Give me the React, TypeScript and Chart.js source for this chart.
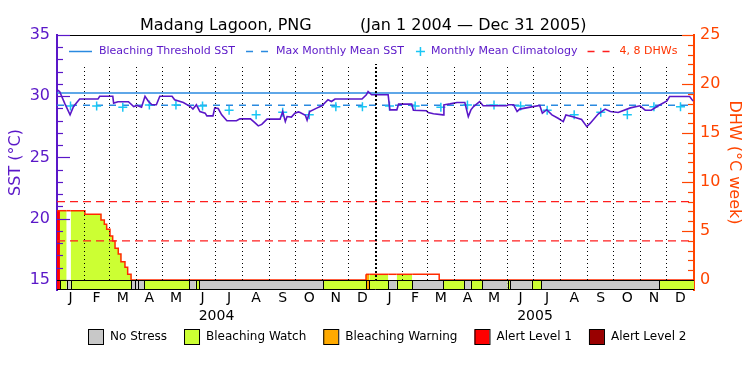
import React, { useEffect, useRef } from 'react';
import { Chart, registerables } from 'chart.js';

Chart.register(...registerables);

const FONT = '"DejaVu Sans", "Liberation Sans", sans-serif';
const PURPLE = '#5a17c8';
const ORANGE = '#ff4500';
const BLUE = '#2a8ae0';
const CYAN = '#19c6f5';
const DHW_RED = '#ff1e1e';
const OUTLINE = '#ff2a00';

const titleMain = 'Madang Lagoon, PNG';
const titlePeriod = '(Jan 1 2004 \u2014 Dec 31 2005)';
const years = [2004, 2005];
const monthLetters = ['J', 'F', 'M', 'A', 'M', 'J', 'J', 'A', 'S', 'O', 'N', 'D'];
const sstTicks = [15, 20, 25, 30, 35];
const dhwTicks = [0, 5, 10, 15, 20, 25];

// Daily SST (days counted from Jan 1 2004)
const sstDays = [0, 3, 9, 15, 19, 26, 47, 49, 64, 65, 70, 82, 88, 92, 97, 101, 105, 109, 114, 118, 132, 135, 145, 153, 156, 160, 164, 170, 172, 179, 181, 185, 189, 195, 206, 210, 222, 227, 231, 235, 241, 256, 259, 262, 264, 269, 273, 277, 279, 285, 287, 290, 298, 304, 311, 315, 319, 350, 355, 357, 361, 380, 382, 390, 392, 407, 409, 424, 426, 432, 443, 444, 451, 459, 468, 472, 475, 478, 485, 489, 516, 518, 524, 528, 531, 543, 554, 557, 562, 568, 575, 581, 584, 593, 602, 608, 612, 621, 629, 635, 644, 658, 669, 675, 682, 690, 700, 703, 726, 730];
const sstValues = [30.53, 30.39, 29.4, 28.48, 29.16, 29.77, 29.77, 30.0, 30.0, 29.44, 29.55, 29.55, 29.16, 29.25, 29.11, 30.0, 29.57, 29.3, 29.3, 30.0, 30.0, 29.71, 29.49, 29.16, 28.95, 29.3, 28.75, 28.62, 28.4, 28.4, 29.05, 29.0, 28.48, 28.0, 28.0, 28.15, 28.15, 27.85, 27.58, 27.7, 28.13, 28.13, 28.75, 27.93, 28.34, 28.3, 28.62, 28.72, 28.67, 28.45, 28.05, 28.75, 29.03, 29.22, 29.71, 29.57, 29.77, 29.77, 30.12, 30.39, 30.12, 30.12, 28.89, 28.89, 29.36, 29.36, 28.85, 28.81, 28.67, 28.57, 28.48, 29.3, 29.38, 29.49, 29.49, 28.34, 28.89, 29.16, 29.57, 29.22, 29.22, 29.3, 29.3, 28.75, 28.95, 29.11, 29.25, 28.62, 28.9, 28.48, 28.2, 27.93, 28.48, 28.3, 28.1, 27.52, 27.8, 28.55, 28.95, 28.75, 28.67, 29.05, 29.22, 28.86, 28.86, 29.22, 29.62, 29.98, 29.98, 29.6];

// Monthly mean climatology Jan..Dec
const climatology = [29.2, 29.2, 29.1, 29.28, 29.28, 29.2, 28.85, 28.48, 28.7, 28.48, 29.15, 29.15];
const bleachingThreshold = 30.27;
const maxMonthlyMean = 29.27;
const dhwLevels = [4, 8];

// Degree heating weeks (value holds until next day listed)
const dhwDays = [0, 3.4, 11.1, 15.7, 32, 50.5, 54.3, 57, 60.8, 63.9, 66.6, 70.3, 73.4, 78, 81.1, 85, 354.6, 358.4, 380.2, 389.8, 407.7, 438.6, 731];
const dhwValues = [7.07, 7.07, 7.07, 7.07, 6.7, 6.12, 5.68, 5.17, 4.49, 3.98, 3.23, 2.65, 1.87, 1.29, 0.58, 0, 0.58, 0.58, 0.58, 0.58, 0.58, 0, 0];

// Stress level periods (breaks in days, level per interval)
const stressBreaks = [0, 3.4, 11.1, 15.7, 85.3, 89.5, 92.5, 99.8, 151.8, 159.2, 163.3, 305.6, 354.6, 358.4, 380.2, 389.8, 407.7, 443.3, 467.4, 474.8, 488.1, 517.2, 519.9, 544.8, 555.8, 691.2, 731];
const stressLevel = [3, 1, 0, 1, 0, 0, 0, 1, 0, 1, 0, 1, 2, 1, 0, 1, 0, 1, 0, 1, 0, 1, 0, 1, 0, 1];
const stressNames = ['No Stress', 'Bleaching Watch', 'Bleaching Warning', 'Alert Level 1', 'Alert Level 2'];
const stressColors = ['#c8c8c8', '#ccff33', '#ffaa00', '#ff0000', '#990000'];
const stressFill = ['rgba(255,255,255,0)', '#ccff33', '#ffaa00', '#ff0000', '#990000'];

const DAY_MS = 86400000;
const T0 = Date.UTC(years[0], 0, 1);
const dayIndex = (y: number, m: number) => (Date.UTC(y, m, 1) - T0) / DAY_MS;
const totalDays = dayIndex(years[years.length - 1] + 1, 0);
const monthStarts: number[] = [];
const monthMids: number[] = [];
years.forEach((y) => {
  for (let m = 0; m < 12; m++) {
    const s = dayIndex(y, m);
    const e = dayIndex(y, m + 1);
    monthStarts.push(s);
    monthMids.push((s + e) / 2);
  }
});
const yearStarts = years.map((y) => dayIndex(y, 0));
const yearMids = years.map((y) => (dayIndex(y, 0) + dayIndex(y + 1, 0)) / 2);

function stressAt(day: number): number {
  for (let i = 0; i < stressLevel.length; i++) {
    if (day >= stressBreaks[i] && day < stressBreaks[i + 1]) return stressLevel[i];
  }
  return 0;
}

const overlayPlugin = {
  id: 'overlay',
  afterDraw(chart: any) {
    const { ctx, chartArea: a, scales } = chart;
    const ys = scales.y;
    const y2 = scales.y2;
    const xs = scales.x;
    ctx.save();

    // backdrop of in-plot legend
    ctx.fillStyle = '#ffffff';
    ctx.fillRect(a.left + 2, a.top + 1, a.right - a.left - 4, 28);

    // top frame
    ctx.strokeStyle = '#000';
    ctx.lineWidth = 1;
    ctx.beginPath();
    ctx.moveTo(a.left, a.top + 0.5);
    ctx.lineTo(a.right, a.top + 0.5);
    ctx.stroke();

    // inward ticks
    ctx.lineWidth = 1.2;
    ctx.strokeStyle = PURPLE;
    for (let v = sstTicks[0]; v <= sstTicks[sstTicks.length - 1]; v++) {
      const py = Math.round(ys.getPixelForValue(v)) + 0.5;
      const len = v % 5 === 0 ? 13 : 6;
      ctx.beginPath();
      ctx.moveTo(a.left, py);
      ctx.lineTo(a.left + len, py);
      ctx.stroke();
    }
    ctx.strokeStyle = ORANGE;
    for (let v = dhwTicks[0]; v <= dhwTicks[dhwTicks.length - 1]; v++) {
      const py = Math.round(y2.getPixelForValue(v)) + 0.5;
      const len = v % 5 === 0 ? 12 : 6;
      ctx.beginPath();
      ctx.moveTo(a.right, py);
      ctx.lineTo(a.right - len, py);
      ctx.stroke();
    }

    // stress bar
    const barTop = Math.round(y2.getPixelForValue(0)) + 0.5;
    const barBottom = Math.round(a.bottom) - 0.5;
    for (let i = 0; i < stressLevel.length; i++) {
      const x0 = xs.getPixelForValue(stressBreaks[i]);
      const x1 = xs.getPixelForValue(stressBreaks[i + 1]);
      ctx.fillStyle = stressColors[stressLevel[i]];
      ctx.fillRect(x0, barTop, x1 - x0, barBottom - barTop);
    }
    ctx.strokeStyle = '#000';
    ctx.lineWidth = 1;
    ctx.beginPath();
    ctx.moveTo(a.left, barTop);
    ctx.lineTo(a.right, barTop);
    ctx.moveTo(a.left, barBottom);
    ctx.lineTo(a.right, barBottom);
    for (let i = 1; i < stressBreaks.length - 1; i++) {
      const px = Math.round(xs.getPixelForValue(stressBreaks[i])) + 0.5;
      ctx.moveTo(px, barTop);
      ctx.lineTo(px, barBottom);
    }
    ctx.stroke();

    // title
    ctx.fillStyle = '#000';
    ctx.font = '16px ' + FONT;
    ctx.textBaseline = 'alphabetic';
    ctx.textAlign = 'left';
    ctx.fillText(titleMain, 140, 30);
    ctx.fillText(titlePeriod, 360, 30);

    // in-plot legend
    const ly = 51.5;
    ctx.font = '11px ' + FONT;
    ctx.textBaseline = 'middle';
    let x = 69;
    ctx.strokeStyle = BLUE;
    ctx.lineWidth = 1.5;
    ctx.beginPath();
    ctx.moveTo(x, ly);
    ctx.lineTo(x + 23, ly);
    ctx.stroke();
    x += 30;
    ctx.fillStyle = PURPLE;
    let t = 'Bleaching Threshold SST';
    ctx.fillText(t, x, ly);
    x += ctx.measureText(t).width + 11;
    ctx.setLineDash([7, 8]);
    ctx.beginPath();
    ctx.moveTo(x, ly);
    ctx.lineTo(x + 22, ly);
    ctx.stroke();
    ctx.setLineDash([]);
    x += 30;
    t = 'Max Monthly Mean SST';
    ctx.fillText(t, x, ly);
    x += ctx.measureText(t).width + 12;
    ctx.strokeStyle = CYAN;
    ctx.beginPath();
    ctx.moveTo(x, ly);
    ctx.lineTo(x + 9, ly);
    ctx.moveTo(x + 4.5, ly - 4.5);
    ctx.lineTo(x + 4.5, ly + 4.5);
    ctx.stroke();
    x += 15;
    t = 'Monthly Mean Climatology';
    ctx.fillText(t, x, ly);
    x += ctx.measureText(t).width + 10;
    ctx.strokeStyle = DHW_RED;
    ctx.setLineDash([7, 8]);
    ctx.beginPath();
    ctx.moveTo(x, ly);
    ctx.lineTo(x + 22, ly);
    ctx.stroke();
    ctx.setLineDash([]);
    x += 32;
    ctx.fillStyle = '#ff3300';
    ctx.fillText('4, 8 DHWs', x, ly);

    // stress legend
    const by = 337;
    ctx.font = '12px ' + FONT;
    x = 88;
    for (let i = 0; i < stressNames.length; i++) {
      ctx.fillStyle = stressColors[i];
      ctx.fillRect(x, by - 7.5, 15, 15);
      ctx.strokeStyle = '#000';
      ctx.lineWidth = 1;
      ctx.strokeRect(x + 0.5, by - 7.5, 15, 15);
      ctx.fillStyle = '#000';
      ctx.fillText(stressNames[i], x + 22, by);
      x += 22 + ctx.measureText(stressNames[i]).width + 17;
    }
    ctx.restore();
  },
};

export default function App() {
  const ref = useRef<HTMLCanvasElement | null>(null);

  useEffect(() => {
    document.body.style.margin = '0';
    const canvas = ref.current;
    if (!canvas) return;

    const sstData = sstDays.map((d, i) => ({ x: d, y: sstValues[i] }));
    const climData = monthMids.map((d, i) => ({ x: d, y: climatology[i % 12] }));
    const flat = (v: number) => [{ x: 0, y: v }, { x: totalDays, y: v }];
    const dhwData = dhwDays.map((d, i) => ({ x: d, y: dhwValues[i] }));

    const chart = new Chart(canvas, {
      type: 'line',
      data: {
        datasets: [
          {
            label: 'SST',
            data: sstData,
            xAxisID: 'x',
            yAxisID: 'y',
            borderColor: PURPLE,
            borderWidth: 1.6,
            pointRadius: 0,
            fill: false,
          },
          {
            label: 'Monthly Mean Climatology',
            data: climData,
            xAxisID: 'x',
            yAxisID: 'y',
            showLine: false,
            pointStyle: 'cross',
            pointRadius: 4.5,
            pointBorderWidth: 1.5,
            pointBorderColor: CYAN,
            borderColor: CYAN,
          },
          {
            label: 'Bleaching Threshold SST',
            data: flat(bleachingThreshold),
            xAxisID: 'x',
            yAxisID: 'y',
            borderColor: BLUE,
            borderWidth: 1.5,
            pointRadius: 0,
          },
          {
            label: 'Max Monthly Mean SST',
            data: flat(maxMonthlyMean),
            xAxisID: 'x',
            yAxisID: 'y',
            borderColor: BLUE,
            borderWidth: 1.5,
            borderDash: [7, 6],
            pointRadius: 0,
          },
          ...dhwLevels.map((v) => ({
            label: v + ' DHW',
            data: flat(v),
            xAxisID: 'x',
            yAxisID: 'y2',
            borderColor: DHW_RED,
            borderWidth: 1.2,
            borderDash: [8, 5],
            pointRadius: 0,
          })),
          {
            label: 'DHW',
            data: dhwData,
            xAxisID: 'x',
            yAxisID: 'y2',
            stepped: true,
            borderColor: OUTLINE,
            borderWidth: 1.5,
            backgroundColor: '#ccff33',
            fill: 'origin',
            pointRadius: 0,
            segment: {
              backgroundColor: (c: any) =>
                stressFill[stressAt((c.p0.parsed.x + c.p1.parsed.x) / 2)],
            },
          },
        ] as any,
      },
      options: {
        responsive: false,
        animation: false,
        devicePixelRatio: 1,
        events: [],
        layout: { padding: { top: 35, bottom: 47, left: 0, right: 0 } },
        plugins: {
          legend: { display: false },
          title: { display: false },
          tooltip: { enabled: false },
        },
        scales: {
          x: {
            type: 'linear',
            axis: 'x',
            position: 'bottom',
            min: 0,
            max: totalDays,
            weight: 0,
            afterBuildTicks: (s: any) => {
              s.ticks = monthStarts.filter((v) => v > 0).map((v) => ({ value: v }));
            },
            afterFit: (s: any) => {
              s.height = 0;
            },
            ticks: { display: false },
            grid: {
              z: 1,
              color: '#000',
              drawTicks: false,
              lineWidth: (c: any) => (c.tick && yearStarts.includes(c.tick.value) ? 2 : 1),
              borderDash: [1, 3],
            },
            border: {
              display: false,
              dash: (c: any) => (c.tick && yearStarts.includes(c.tick.value) ? [2, 2] : [1, 3]),
            },
          },
          xm: {
            type: 'linear',
            axis: 'x',
            position: 'bottom',
            min: 0,
            max: totalDays,
            weight: 1,
            afterBuildTicks: (s: any) => {
              s.ticks = monthMids.map((v) => ({ value: v }));
            },
            afterFit: (s: any) => {
              s.height = 18;
            },
            grid: { display: false, drawTicks: false },
            border: { display: false },
            ticks: {
              autoSkip: false,
              maxRotation: 0,
              padding: 0,
              color: '#000',
              font: { family: FONT, size: 14 },
              callback: (_v: any, i: number) => monthLetters[i % 12],
            },
          },
          xy: {
            type: 'linear',
            axis: 'x',
            position: 'bottom',
            min: 0,
            max: totalDays,
            weight: 2,
            afterBuildTicks: (s: any) => {
              s.ticks = yearMids.map((v) => ({ value: v }));
            },
            afterFit: (s: any) => {
              s.height = 20;
            },
            grid: { display: false, drawTicks: false },
            border: { display: false },
            ticks: {
              autoSkip: false,
              maxRotation: 0,
              padding: 0,
              color: '#000',
              font: { family: FONT, size: 14 },
              callback: (_v: any, i: number) => String(years[i]),
            },
          },
          y: {
            type: 'linear',
            position: 'left',
            min: 14.182,
            max: 35,
            afterBuildTicks: (s: any) => {
              s.ticks = sstTicks.map((v) => ({ value: v }));
            },
            afterFit: (s: any) => {
              s.width = 57;
            },
            grid: { display: false, drawTicks: false },
            border: { display: true, color: PURPLE, width: 2 },
            ticks: {
              color: PURPLE,
              padding: 7,
              font: { family: FONT, size: 16 },
            },
            title: {
              display: true,
              text: 'SST (\u00B0C)',
              color: PURPLE,
              font: { family: FONT, size: 16 },
              padding: { top: 6, bottom: 0 },
            },
          },
          y2: {
            type: 'linear',
            position: 'right',
            min: -1.0225,
            max: 25,
            afterBuildTicks: (s: any) => {
              s.ticks = dhwTicks.map((v) => ({ value: v }));
            },
            afterFit: (s: any) => {
              s.width = 56;
            },
            grid: { display: false, drawTicks: false },
            border: { display: true, color: ORANGE, width: 2 },
            ticks: {
              color: ORANGE,
              padding: 6,
              font: { family: FONT, size: 16 },
            },
            title: {
              display: true,
              text: 'DHW (\u00B0C week)',
              color: ORANGE,
              font: { family: FONT, size: 16 },
              padding: { top: 6, bottom: 0 },
            },
          },
        },
      } as any,
      plugins: [overlayPlugin],
    });

    return () => chart.destroy();
  }, []);

  return (
    <div style={{ width: 750, height: 375, position: 'relative' }}>
      <canvas ref={ref} width={750} height={375} style={{ display: 'block', width: 750, height: 375 }} />
    </div>
  );
}
